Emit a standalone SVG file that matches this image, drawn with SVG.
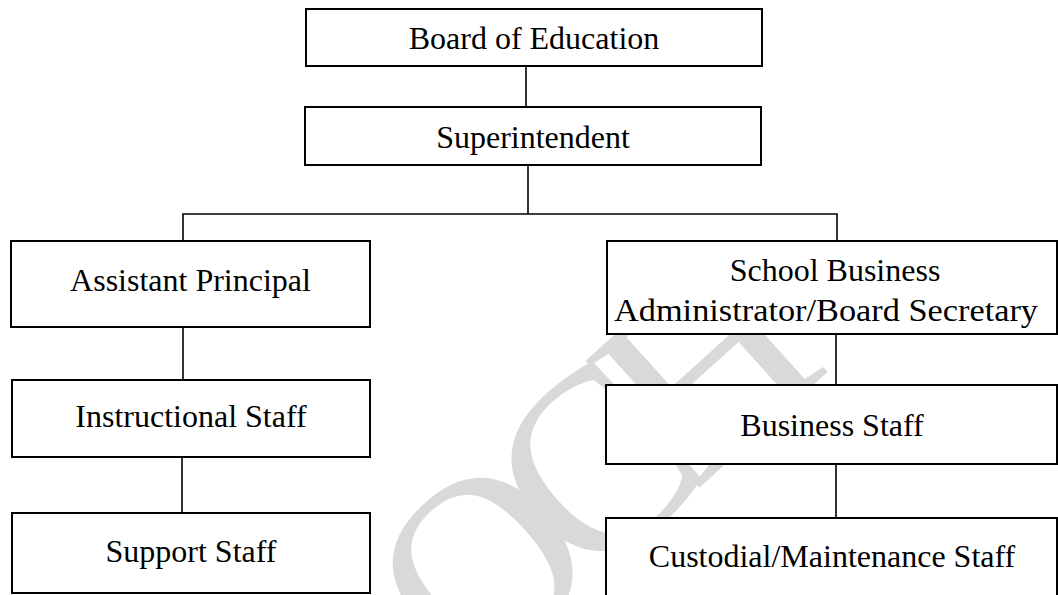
<svg xmlns="http://www.w3.org/2000/svg" width="1058" height="595" viewBox="0 0 1058 595">
<style>
.box{fill:#fff;stroke:#000;stroke-width:2}
.lbl{font-family:"Liberation Serif","Times New Roman",serif;font-size:32px;fill:#000;text-anchor:middle}
.conn{stroke:#000;stroke-width:1.6;fill:none}
.wm{font-family:"Liberation Serif","Times New Roman",serif;font-size:260px;fill:#d9d9d9;letter-spacing:-30px}
</style>
<rect width="1058" height="595" fill="#fff"/>
<text class="wm" transform="translate(470,694) rotate(-42)">OCH</text>
<g id="connectors">
<line class="conn" x1="526" y1="66" x2="526" y2="107"/>
<polyline class="conn" points="528,165 528,214"/>
<polyline class="conn" points="183,241 183,214 837,214 837,241"/>
<line class="conn" x1="183" y1="327" x2="183" y2="380"/>
<line class="conn" x1="182" y1="457" x2="182" y2="513"/>
<line class="conn" x1="836" y1="334" x2="836" y2="385"/>
<line class="conn" x1="836" y1="464" x2="836" y2="518"/>
</g>
<g id="board">
<rect class="box" x="306" y="9" width="456" height="57"/>
<text class="lbl" x="534" y="49">Board of Education</text>
</g>
<g id="superintendent">
<rect class="box" x="305" y="107" width="456" height="58"/>
<text class="lbl" x="533" y="148">Superintendent</text>
</g>
<g id="assistant-principal">
<rect class="box" x="11" y="241" width="359" height="86"/>
<text class="lbl" x="190.5" y="291">Assistant Principal</text>
</g>
<g id="instructional-staff">
<rect class="box" x="12" y="380" width="358" height="77"/>
<text class="lbl" x="191" y="427">Instructional Staff</text>
</g>
<g id="support-staff">
<rect class="box" x="12" y="513" width="358" height="80"/>
<text class="lbl" x="191" y="562">Support Staff</text>
</g>
<g id="school-business-administrator">
<rect class="box" x="607" y="241" width="450" height="93"/>
<text class="lbl" x="835" y="281">School Business</text>
<text class="lbl" x="826" y="321" textLength="424" lengthAdjust="spacingAndGlyphs">Administrator/Board Secretary</text>
</g>
<g id="business-staff">
<rect class="box" x="606" y="385" width="451" height="79"/>
<text class="lbl" x="832" y="436">Business Staff</text>
</g>
<g id="custodial-maintenance-staff">
<rect class="box" x="606" y="518" width="451" height="80"/>
<text class="lbl" x="832" y="567">Custodial/Maintenance Staff</text>
</g>
</svg>
